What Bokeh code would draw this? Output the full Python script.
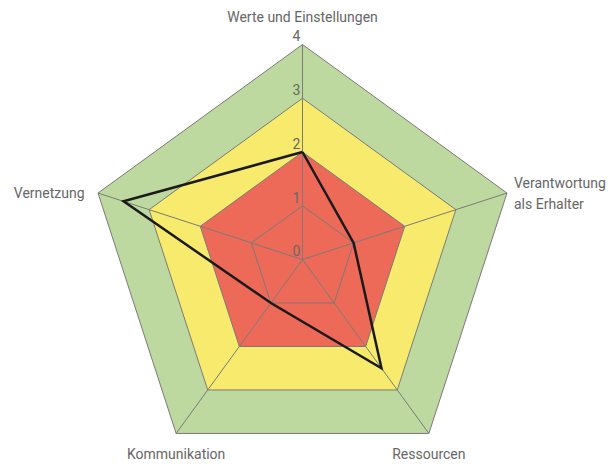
import numpy as np
from bokeh.plotting import figure
from bokeh.models import Range1d
from bokeh.core.properties import value
from bokeh.embed import file_html
from bokeh.resources import INLINE

categories = ["Werte und Einstellungen", "Verantwortung\nals Erhalter", "Ressourcen", "Kommunikation", "Vernetzung"]
values = [2.0, 1.0, 2.5, 1.0, 3.5]
zones = [4, 3, 2]
zone_colors = ["#bed99f", "#f8ea6c", "#ee6a58"]
ticks = [0, 1, 2, 3, 4]

W, H = 609, 464
s = 53.75
cx, cy = 302, 259
p = figure(width=W, height=H, output_backend="svg", toolbar_location=None,
           x_range=Range1d(-cx / s, (W - cx) / s), y_range=Range1d(-(H - cy) / s, cy / s),
           min_border=0)
p.axis.visible = False
p.grid.visible = False
p.outline_line_color = None
p.background_fill_color = "white"

n = len(categories)
ang = np.pi / 2 - np.arange(n) * 2 * np.pi / n
cosv, sinv = np.cos(ang), np.sin(ang)

for r, c in zip(zones, zone_colors):
    p.patch(list(r * cosv), list(r * sinv), fill_color=c, line_color=None)

for r in ticks[1:]:
    p.line(list(r * cosv) + [r * cosv[0]], list(r * sinv) + [r * sinv[0]], line_color="#7a7a7a", line_width=1)
for i in range(n):
    p.line([0, 4 * cosv[i]], [0, 4 * sinv[i]], line_color="#7a7a7a", line_width=1)

vx = [v * c for v, c in zip(values, cosv)]
vy = [v * c for v, c in zip(values, sinv)]
p.line(vx + [vx[0]], vy + [vy[0]], line_color="#1a1a1a", line_width=2.5, line_join="miter")

font = value("Roboto")
p.text(x=[-0.04] * len(ticks), y=[t + 0.06 for t in ticks], text=[str(t) for t in ticks],
       text_font=font, text_font_size="14px", text_color="#666666",
       text_align="right", text_baseline="bottom")

# category labels
lx = [4 * cosv[0], 4 * cosv[1] + 0.13, 4 * cosv[2], 4 * cosv[3], 4 * cosv[4] - 0.25]
ly = [4 * sinv[0] + 0.37, 4 * sinv[1] - 0.01, 4 * sinv[2] - 0.39, 4 * sinv[3] - 0.39, 4 * sinv[4]]
aligns = ["center", "left", "center", "center", "right"]
bases = ["bottom", "middle", "middle", "middle", "middle"]
for t, x, y, a, b in zip(categories, lx, ly, aligns, bases):
    p.text(x=[x], y=[y], text=[t], text_font=font, text_font_size="14px", text_color="#666666",
           text_align=a, text_baseline=b, text_line_height=1.3)

open("out.html", "w").write(file_html(p, INLINE))
